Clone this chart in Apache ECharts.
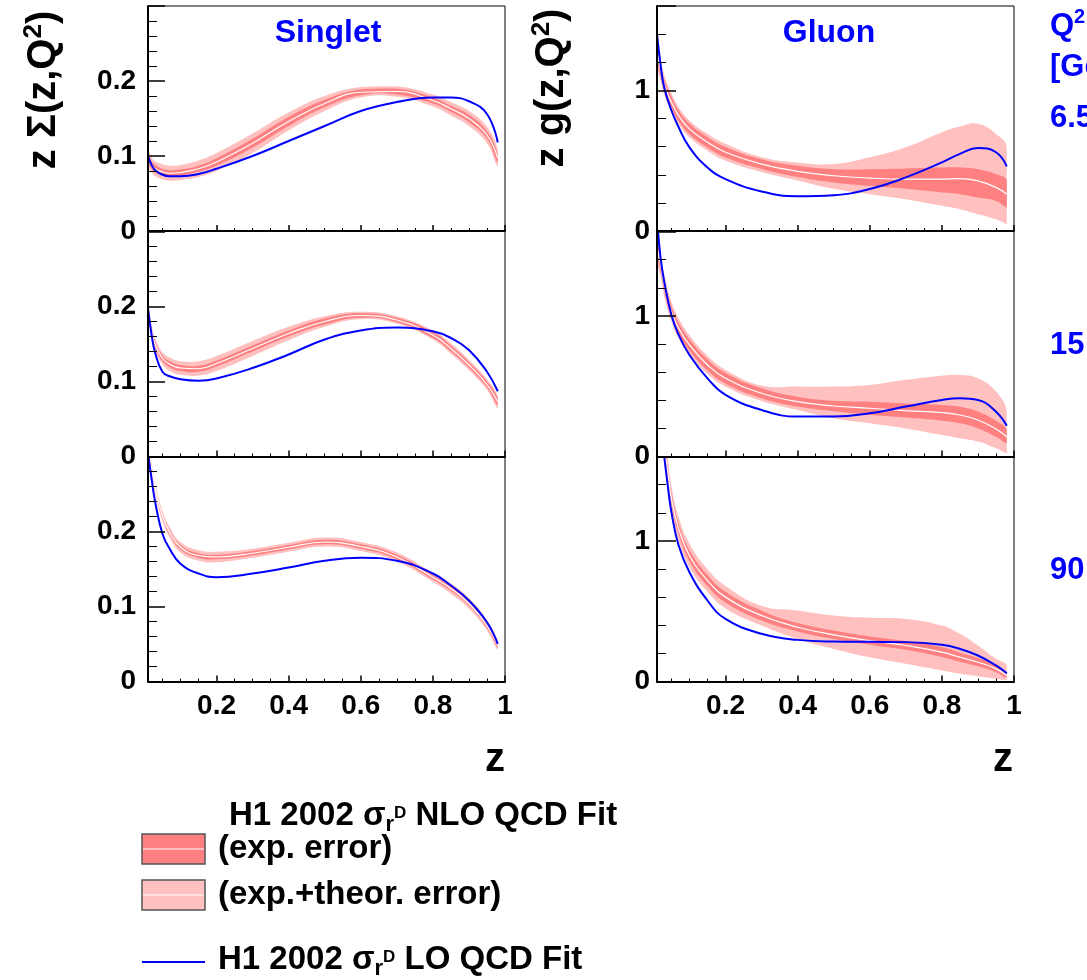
<!DOCTYPE html>
<html>
<head>
<meta charset="utf-8">
<script src="https://cdn.jsdelivr.net/npm/echarts@6/dist/echarts.min.js"></script>
<style>
  html, body { margin: 0; padding: 0; background: #fff; }
  #chart { width: 1087px; height: 980px; }
</style>
</head>
<body>
<div id="chart"></div>
<script>
const zPts = [0.01, 0.02, 0.03, 0.05, 0.07, 0.1, 0.15, 0.2, 0.3, 0.4, 0.5, 0.6, 0.7, 0.8, 0.85, 0.9, 0.95, 0.98];
const zPtsG90 = [0.03, 0.04, 0.05, 0.07, 0.1, 0.15, 0.2, 0.3, 0.4, 0.5, 0.6, 0.7, 0.8, 0.85, 0.9, 0.95, 0.98];

// Singlet, Q2 = 6.5
const s65Nlo   = [0.098, 0.088, 0.083, 0.079, 0.077, 0.078, 0.083, 0.092, 0.117, 0.146, 0.170, 0.185, 0.186, 0.174, 0.163, 0.150, 0.128, 0.097];
const s65ExpDn = [0.093, 0.083, 0.078, 0.075, 0.073, 0.074, 0.079, 0.087, 0.111, 0.140, 0.165, 0.181, 0.182, 0.170, 0.159, 0.145, 0.123, 0.091];
const s65ExpUp = [0.103, 0.093, 0.088, 0.083, 0.081, 0.082, 0.087, 0.097, 0.123, 0.152, 0.175, 0.189, 0.190, 0.178, 0.167, 0.155, 0.133, 0.103];
const s65TotDn = [0.088, 0.078, 0.073, 0.069, 0.067, 0.068, 0.072, 0.080, 0.104, 0.134, 0.160, 0.178, 0.179, 0.166, 0.154, 0.140, 0.117, 0.086];
const s65TotUp = [0.108, 0.098, 0.093, 0.089, 0.087, 0.088, 0.094, 0.104, 0.130, 0.158, 0.180, 0.192, 0.193, 0.182, 0.172, 0.160, 0.139, 0.108];
const s65LoFit = [0.100, 0.088, 0.081, 0.075, 0.073, 0.073, 0.076, 0.083, 0.100, 0.120, 0.140, 0.160, 0.172, 0.178, 0.178, 0.173, 0.156, 0.118];

// Singlet, Q2 = 15
const s15Nlo   = [0.196, 0.167, 0.149, 0.131, 0.123, 0.118, 0.117, 0.124, 0.144, 0.164, 0.180, 0.188, 0.182, 0.162, 0.144, 0.122, 0.096, 0.073];
const s15ExpDn = [0.191, 0.162, 0.144, 0.127, 0.119, 0.114, 0.113, 0.120, 0.140, 0.160, 0.176, 0.185, 0.179, 0.158, 0.140, 0.118, 0.092, 0.068];
const s15ExpUp = [0.201, 0.172, 0.154, 0.135, 0.127, 0.122, 0.121, 0.128, 0.148, 0.168, 0.184, 0.191, 0.185, 0.166, 0.148, 0.126, 0.100, 0.078];
const s15TotDn = [0.188, 0.159, 0.141, 0.123, 0.114, 0.109, 0.108, 0.114, 0.134, 0.155, 0.173, 0.183, 0.177, 0.156, 0.137, 0.115, 0.089, 0.064];
const s15TotUp = [0.204, 0.175, 0.157, 0.139, 0.132, 0.127, 0.127, 0.134, 0.154, 0.173, 0.187, 0.193, 0.187, 0.168, 0.151, 0.129, 0.103, 0.080];
const s15LoFit = [0.198, 0.162, 0.138, 0.113, 0.107, 0.103, 0.101, 0.104, 0.118, 0.136, 0.156, 0.168, 0.172, 0.167, 0.158, 0.142, 0.113, 0.087];

// Singlet, Q2 = 90
const s90Nlo   = [0.312, 0.284, 0.257, 0.221, 0.199, 0.179, 0.168, 0.166, 0.171, 0.179, 0.186, 0.180, 0.166, 0.139, 0.124, 0.104, 0.075, 0.048];
const s90ExpDn = [0.309, 0.281, 0.254, 0.218, 0.196, 0.176, 0.165, 0.163, 0.168, 0.176, 0.183, 0.177, 0.163, 0.136, 0.121, 0.101, 0.072, 0.045];
const s90ExpUp = [0.315, 0.287, 0.260, 0.224, 0.202, 0.182, 0.171, 0.169, 0.174, 0.182, 0.189, 0.183, 0.169, 0.142, 0.127, 0.107, 0.078, 0.051];
const s90TotDn = [0.305, 0.277, 0.250, 0.214, 0.192, 0.172, 0.161, 0.159, 0.165, 0.173, 0.180, 0.174, 0.160, 0.133, 0.117, 0.097, 0.068, 0.042];
const s90TotUp = [0.319, 0.291, 0.264, 0.228, 0.206, 0.186, 0.175, 0.173, 0.177, 0.185, 0.192, 0.186, 0.172, 0.145, 0.131, 0.111, 0.082, 0.054];
const s90LoFit = [0.305, 0.270, 0.239, 0.197, 0.177, 0.157, 0.144, 0.139, 0.144, 0.152, 0.161, 0.165, 0.161, 0.144, 0.128, 0.108, 0.079, 0.050];

// Gluon, Q2 = 6.5
const g65Nlo   = [1.28, 1.15, 1.04, 0.917, 0.82, 0.726, 0.631, 0.56, 0.476, 0.424, 0.393, 0.376, 0.369, 0.369, 0.372, 0.357, 0.31, 0.262];
const g65ExpDn = [1.23, 1.105, 1.00, 0.877, 0.782, 0.688, 0.593, 0.522, 0.441, 0.384, 0.345, 0.321, 0.30, 0.274, 0.262, 0.238, 0.214, 0.167];
const g65ExpUp = [1.33, 1.195, 1.08, 0.957, 0.858, 0.764, 0.669, 0.598, 0.511, 0.464, 0.44, 0.44, 0.445, 0.452, 0.452, 0.44, 0.405, 0.357];
const g65TotDn = [1.17, 1.07, 0.97, 0.85, 0.76, 0.666, 0.571, 0.50, 0.42, 0.36, 0.30, 0.262, 0.226, 0.179, 0.155, 0.119, 0.083, 0.048];
const g65TotUp = [1.39, 1.23, 1.11, 0.98, 0.88, 0.786, 0.691, 0.62, 0.525, 0.488, 0.476, 0.524, 0.595, 0.702, 0.743, 0.762, 0.69, 0.595];
const g65LoFit = [1.40, 1.18, 1.02, 0.857, 0.738, 0.595, 0.452, 0.369, 0.281, 0.248, 0.255, 0.298, 0.381, 0.488, 0.548, 0.59, 0.56, 0.46];

// Gluon, Q2 = 15
const g15Nlo   = [1.48, 1.363, 1.22, 1.03, 0.912, 0.794, 0.651, 0.556, 0.45, 0.39, 0.359, 0.343, 0.326, 0.312, 0.295, 0.26, 0.196, 0.141];
const g15ExpDn = [1.43, 1.32, 1.18, 0.99, 0.872, 0.754, 0.611, 0.518, 0.415, 0.355, 0.322, 0.297, 0.277, 0.255, 0.236, 0.20, 0.14, 0.094];
const g15ExpUp = [1.53, 1.41, 1.26, 1.07, 0.952, 0.834, 0.691, 0.594, 0.485, 0.425, 0.396, 0.39, 0.377, 0.367, 0.354, 0.32, 0.254, 0.19];
const g15TotDn = [1.38, 1.28, 1.14, 0.96, 0.84, 0.724, 0.586, 0.496, 0.395, 0.331, 0.272, 0.236, 0.20, 0.153, 0.13, 0.106, 0.058, 0.023];
const g15TotUp = [1.58, 1.45, 1.30, 1.10, 0.984, 0.864, 0.716, 0.616, 0.505, 0.497, 0.497, 0.509, 0.545, 0.575, 0.58, 0.557, 0.462, 0.32];
const g15LoFit = [1.70, 1.41, 1.244, 1.007, 0.865, 0.722, 0.556, 0.438, 0.331, 0.284, 0.284, 0.307, 0.355, 0.402, 0.414, 0.402, 0.319, 0.219];

// Gluon, Q2 = 90 (enters the frame from above at z ~ 0.03)
const g90Nlo   = [1.66, 1.49, 1.30, 1.085, 0.896, 0.718, 0.60, 0.469, 0.386, 0.332, 0.291, 0.256, 0.209, 0.173, 0.137, 0.09, 0.043];
const g90ExpDn = [1.61, 1.44, 1.255, 1.045, 0.856, 0.678, 0.562, 0.434, 0.356, 0.302, 0.262, 0.226, 0.175, 0.141, 0.108, 0.066, 0.028];
const g90ExpUp = [1.71, 1.54, 1.345, 1.125, 0.936, 0.758, 0.638, 0.504, 0.416, 0.362, 0.32, 0.288, 0.245, 0.205, 0.168, 0.114, 0.058];
const g90TotDn = [1.56, 1.40, 1.21, 1.0, 0.811, 0.638, 0.52, 0.399, 0.303, 0.232, 0.173, 0.126, 0.078, 0.055, 0.038, 0.019, 0.007];
const g90TotUp = [1.76, 1.58, 1.39, 1.17, 0.981, 0.798, 0.68, 0.539, 0.505, 0.469, 0.453, 0.445, 0.398, 0.339, 0.256, 0.161, 0.114];
const g90LoFit = [1.60, 1.39, 1.204, 0.967, 0.777, 0.576, 0.445, 0.339, 0.296, 0.284, 0.282, 0.28, 0.261, 0.232, 0.185, 0.114, 0.059];

const q2Labels = ['6.5', '15', '90'];

const FONT = 'Liberation Sans';
const BLUE = '#0000ff';
const EXP_COLOR = '#ff8080';
const TOT_COLOR = '#ffc0c0';

let myChart = echarts.init(document.getElementById('chart'));

const panels = [
  { col: 0, row: 0, z: zPts, nlo: s65Nlo, expDn: s65ExpDn, expUp: s65ExpUp, totDn: s65TotDn, totUp: s65TotUp, loFit: s65LoFit },
  { col: 0, row: 1, z: zPts, nlo: s15Nlo, expDn: s15ExpDn, expUp: s15ExpUp, totDn: s15TotDn, totUp: s15TotUp, loFit: s15LoFit },
  { col: 0, row: 2, z: zPts, nlo: s90Nlo, expDn: s90ExpDn, expUp: s90ExpUp, totDn: s90TotDn, totUp: s90TotUp, loFit: s90LoFit },
  { col: 1, row: 0, z: zPts, nlo: g65Nlo, expDn: g65ExpDn, expUp: g65ExpUp, totDn: g65TotDn, totUp: g65TotUp, loFit: g65LoFit },
  { col: 1, row: 1, z: zPts, nlo: g15Nlo, expDn: g15ExpDn, expUp: g15ExpUp, totDn: g15TotDn, totUp: g15TotUp, loFit: g15LoFit },
  { col: 1, row: 2, z: zPtsG90, nlo: g90Nlo, expDn: g90ExpDn, expUp: g90ExpUp, totDn: g90TotDn, totUp: g90TotUp, loFit: g90LoFit }
];

const colBox = [{ left: 148, width: 357 }, { left: 657, width: 357 }];
const rowTop = [6, 231.5, 456.5];
const rowH = 225;

const yCfg = [
  { max: 0.3, interval: 0.1, tick: 17, margin: 12,
    fmt: function (v) { if (v > 0.25) return ''; return v === 0 ? '0' : v.toFixed(1); } },
  { max: 1.6, interval: 1, tick: 19, margin: 7,
    fmt: function (v) { return (v === 0 || v === 1) ? String(v) : ''; } }
];

const labelFont = { fontSize: 28, fontWeight: 'bold', fontFamily: FONT, color: '#000' };

let grids = [], xAxes = [], yAxes = [], series = [];

// filled band between two read-off edges, drawn through the axis scales
function band(idx, xs, dn, up, color) {
  return {
    type: 'custom', xAxisIndex: idx, yAxisIndex: idx, silent: true, z: 1,
    data: [[0.5, 0]],
    renderItem: function (params, api) {
      const top = xs.map(function (x, k) { return api.coord([x, up[k]]); });
      const bottom = xs.map(function (x, k) { return api.coord([x, dn[k]]); }).reverse();
      const pts = top.concat(bottom);
      let minX = Infinity, minY = Infinity, maxX = -Infinity, maxY = -Infinity;
      pts.forEach(function (p) {
        minX = Math.min(minX, p[0]); maxX = Math.max(maxX, p[0]);
        minY = Math.min(minY, p[1]); maxY = Math.max(maxY, p[1]);
      });
      const cs = params.coordSys;
      return {
        type: 'polygon',
        shape: { points: pts, smooth: 0.45, smoothConstraint: [[minX, minY], [maxX, maxY]] },
        style: { fill: color },
        clipPath: { type: 'rect', shape: { x: cs.x, y: cs.y, width: cs.width, height: cs.height } }
      };
    }
  };
}

function curve(idx, xs, ys, color, width, z) {
  return {
    type: 'line', xAxisIndex: idx, yAxisIndex: idx, silent: true, z: z,
    data: xs.map(function (x, k) { return [x, ys[k]]; }),
    smooth: 0.45, symbol: 'none', clip: true,
    lineStyle: { color: color, width: width }
  };
}

panels.forEach(function (p, i) {
  const c = colBox[p.col];
  const yc = yCfg[p.col];
  grids.push({
    left: c.left, width: c.width, top: rowTop[p.row], height: rowH,
    show: true, borderColor: '#000', borderWidth: 1, backgroundColor: 'transparent',
    containLabel: false, outerBoundsMode: 'none'
  });
  xAxes.push({
    gridIndex: i, type: 'value', min: 0.01, max: 1, splitNumber: 5, z: 5,
    axisLine: { show: true, onZero: false, lineStyle: { color: '#000', width: 2 } },
    axisTick: { show: true, inside: true, length: 6, lineStyle: { color: '#000', width: 1.5 } },
    minorTick: { show: true, splitNumber: 4, length: 3, lineStyle: { color: '#000', width: 1 } },
    splitLine: { show: false },
    axisLabel: Object.assign({
      show: p.row === 2, margin: 11,
      formatter: function (v) { if (v < 0.1) return ''; return v === 1 ? '1' : v.toFixed(1); }
    }, labelFont)
  });
  yAxes.push({
    gridIndex: i, type: 'value', min: 0, max: yc.max, interval: yc.interval, z: 5,
    axisLine: { show: true, onZero: false, lineStyle: { color: '#000', width: 2 } },
    axisTick: { show: true, inside: true, length: yc.tick, lineStyle: { color: '#000', width: 1.5 } },
    minorTick: { show: true, splitNumber: 5, length: 9, lineStyle: { color: '#000', width: 1 } },
    splitLine: { show: false },
    axisLabel: Object.assign({ margin: yc.margin, formatter: yc.fmt }, labelFont)
  });
  series.push(band(i, p.z, p.totDn, p.totUp, TOT_COLOR));
  series.push(band(i, p.z, p.expDn, p.expUp, EXP_COLOR));
  series.push(curve(i, p.z, p.nlo, '#ffffff', 1.2, 3));
  series.push(curve(i, p.z, p.loFit, BLUE, 2, 4));
});

function richSet(size, supSize, supLH, color) {
  return {
    t: { fontSize: size, fontWeight: 'bold', fontFamily: FONT, lineHeight: size + 6, fill: color },
    sup: { fontSize: supSize, fontWeight: 'bold', fontFamily: FONT, lineHeight: supLH, verticalAlign: 'top', fill: color },
    sub: { fontSize: 22, fontWeight: 'bold', fontFamily: FONT, lineHeight: 18, verticalAlign: 'bottom', fill: color },
    // the D superscript sits a little above mid-height of the line
    sup2: { fontSize: 17, fontWeight: 'bold', fontFamily: FONT, lineHeight: 10, height: 33, verticalAlign: 'top', fill: color }
  };
}

function txt(x, y, text, size, color, align) {
  return {
    type: 'text', x: x, y: y, z: 100, silent: true,
    style: {
      text: text, fill: color, fontSize: size, fontWeight: 'bold', fontFamily: FONT,
      align: align || 'left', verticalAlign: 'middle'
    }
  };
}

let graphics = [];
// panel titles
graphics.push(txt(328, 33, 'Singlet', 32, BLUE, 'center'));
graphics.push(txt(829, 33, 'Gluon', 32, BLUE, 'center'));

// rotated y titles
[[44, 90, '{t|z \u03A3(z,Q}{sup|2}{t|)}'], [552, 88, '{t|z g(z,Q}{sup|2}{t|)}']].forEach(function (d) {
  graphics.push({
    type: 'text', x: d[0], y: d[1], rotation: Math.PI / 2, z: 100, silent: true,
    style: { text: d[2], align: 'center', verticalAlign: 'middle', fill: '#000', rich: richSet(40, 26, 14, '#000') }
  });
});

// x titles
graphics.push(txt(505, 760, 'z', 40, '#000', 'right'));
graphics.push(txt(1013, 760, 'z', 40, '#000', 'right'));

// Q2 column at the right edge
graphics.push({ type: 'text', x: 1050, y: 26, z: 100, silent: true,
  style: { text: '{t|Q}{sup|2}', align: 'left', verticalAlign: 'middle', rich: richSet(31, 20, 10, BLUE) } });
graphics.push({ type: 'text', x: 1050, y: 67, z: 100, silent: true,
  style: { text: '{t|[GeV}{sup|2}{t|]}', align: 'left', verticalAlign: 'middle', rich: richSet(31, 20, 10, BLUE) } });
[118, 345, 570].forEach(function (y, k) {
  graphics.push(txt(1050, y, q2Labels[k], 31, BLUE));
});

// legend
graphics.push({ type: 'text', x: 229, y: 816, z: 100, silent: true,
  style: { text: '{t|H1 2002 \u03C3}{sub|r}{sup2|D}{t| NLO QCD Fit}', align: 'left', verticalAlign: 'middle', rich: richSet(33, 16, 31, '#000') } });
[[834, EXP_COLOR, '(exp. error)'], [880, TOT_COLOR, '(exp.+theor. error)']].forEach(function (d) {
  graphics.push({ type: 'rect', z: 100, silent: true, shape: { x: 142, y: d[0], width: 63, height: 30 },
    style: { fill: d[1], stroke: '#555', lineWidth: 1.5 } });
  graphics.push({ type: 'line', z: 101, silent: true, shape: { x1: 143, y1: d[0] + 15, x2: 204, y2: d[0] + 15 },
    style: { stroke: '#fff', lineWidth: 1 } });
  graphics.push(txt(218, d[0] + 15, d[2], 33, '#000'));
});
graphics.push({ type: 'line', z: 100, silent: true, shape: { x1: 142, y1: 962, x2: 205, y2: 962 },
  style: { stroke: BLUE, lineWidth: 2 } });
graphics.push({ type: 'text', x: 218, y: 960, z: 100, silent: true,
  style: { text: '{t|H1 2002 \u03C3}{sub|r}{sup2|D}{t| LO QCD Fit}', align: 'left', verticalAlign: 'middle', rich: richSet(33, 16, 31, '#000') } });

myChart.setOption({
  animation: false,
  backgroundColor: '#fff',
  grid: grids,
  xAxis: xAxes,
  yAxis: yAxes,
  series: series,
  graphic: graphics
});
</script>
</body>
</html>
